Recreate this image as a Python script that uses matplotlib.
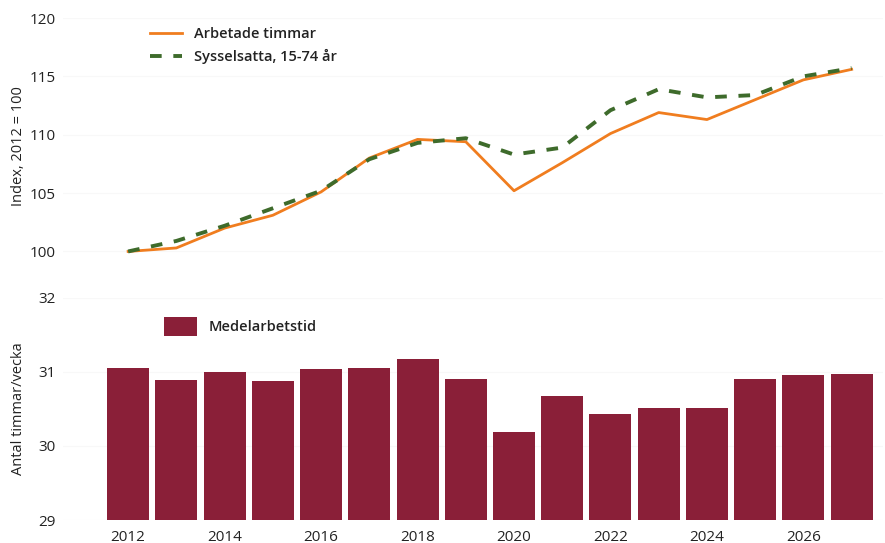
import matplotlib
matplotlib.use("Agg")
import matplotlib.pyplot as plt
from matplotlib.patches import Patch
from matplotlib.lines import Line2D

plt.rcParams['font.family'] = ['Open Sans', 'DejaVu Sans']

years = list(range(2012, 2028))
arbetade_timmar = [100.0, 100.3, 102.0, 103.1, 105.1, 108.0, 109.6, 109.4,
                   105.2, 107.6, 110.1, 111.9, 111.3, 113.0, 114.7, 115.6]
sysselsatta = [100.0, 100.9, 102.2, 103.7, 105.2, 107.9, 109.3, 109.7,
               108.3, 108.9, 112.1, 113.9, 113.2, 113.4, 115.0, 115.7]
medelarbetstid = [31.05, 30.89, 30.99, 30.87, 31.03, 31.05, 31.17, 30.90,
                  30.18, 30.67, 30.43, 30.51, 30.51, 30.90, 30.95, 30.97]
xtick_years = [2012, 2014, 2016, 2018, 2020, 2022, 2024, 2026]

orange = '#F07D1F'
green = '#3E6B2B'
barcol = '#8A1F38'
txt = '#222222'

fig = plt.figure(figsize=(8.85, 5.43), dpi=100)
W, H = 885, 543
left = 63 / W
width = (883 - 63) / W

# top panel
ax1 = fig.add_axes([left, 1 - 274.8 / H, width, (274.8 - 18) / H])
ax1.plot(years, arbetade_timmar, color=orange, lw=2.0, zorder=3)
ax1.plot(years, sysselsatta, color=green, lw=2.8, dashes=(3.0, 3.0), zorder=4)
ax1.set_ylim(98, 120)
ax1.set_yticks([100, 105, 110, 115, 120])
ax1.set_xlim(2010.65, 2027.65)
ax1.set_xticks([])
ax1.set_ylabel('Index, 2012 = 100', fontsize=10.5, color=txt)
ax1.grid(axis='y', color='#f8f8f8', lw=0.8)
handles = [Line2D([0], [0], color=orange, lw=2.0),
           Line2D([0], [0], color=green, lw=2.8, dashes=(3.0, 3.0))]
ax1.legend(handles, ['Arbetade timmar', 'Sysselsatta, 15-74 år'],
           loc='upper left', bbox_to_anchor=(0.09, 1.015), frameon=False,
           handlelength=2.2, handletextpad=0.8,
           labelspacing=0.5, labelcolor=txt,
           prop={'weight': 'semibold', 'size': 10.5})

# bottom panel
ax2 = fig.add_axes([left, 1 - 520 / H, width, (520 - 297.5) / H])
ax2.bar(years, [v - 29 for v in medelarbetstid], bottom=29, width=0.87,
        color=barcol, zorder=3)
ax2.set_ylim(29, 32)
ax2.set_yticks([29, 30, 31, 32])
ax2.set_xlim(2010.65, 2027.65)
ax2.set_xticks(xtick_years)
ax2.set_xticklabels([str(y) for y in xtick_years])
ax2.set_ylabel('Antal timmar/vecka', fontsize=10.5, color=txt)
ax2.grid(axis='y', color='#f8f8f8', lw=0.8)
ax2.legend([Patch(facecolor=barcol)], ['Medelarbetstid'],
           loc='upper left', bbox_to_anchor=(0.107, 0.97), frameon=False,
           handlelength=2.3, handleheight=1.6, handletextpad=0.8,
           labelcolor=txt, prop={'weight': 'semibold', 'size': 10.5})

for ax in (ax1, ax2):
    for s in ax.spines.values():
        s.set_visible(False)
    ax.tick_params(length=0, labelsize=11, colors=txt)
    ax.tick_params(axis='y', pad=5)
    ax.set_axisbelow(True)
ax2.tick_params(axis='x', pad=7)

ax1.yaxis.set_label_coords(-0.045, 0.5)
ax2.yaxis.set_label_coords(-0.045, 0.5)

fig.savefig('out.png', dpi=100, facecolor='white')
